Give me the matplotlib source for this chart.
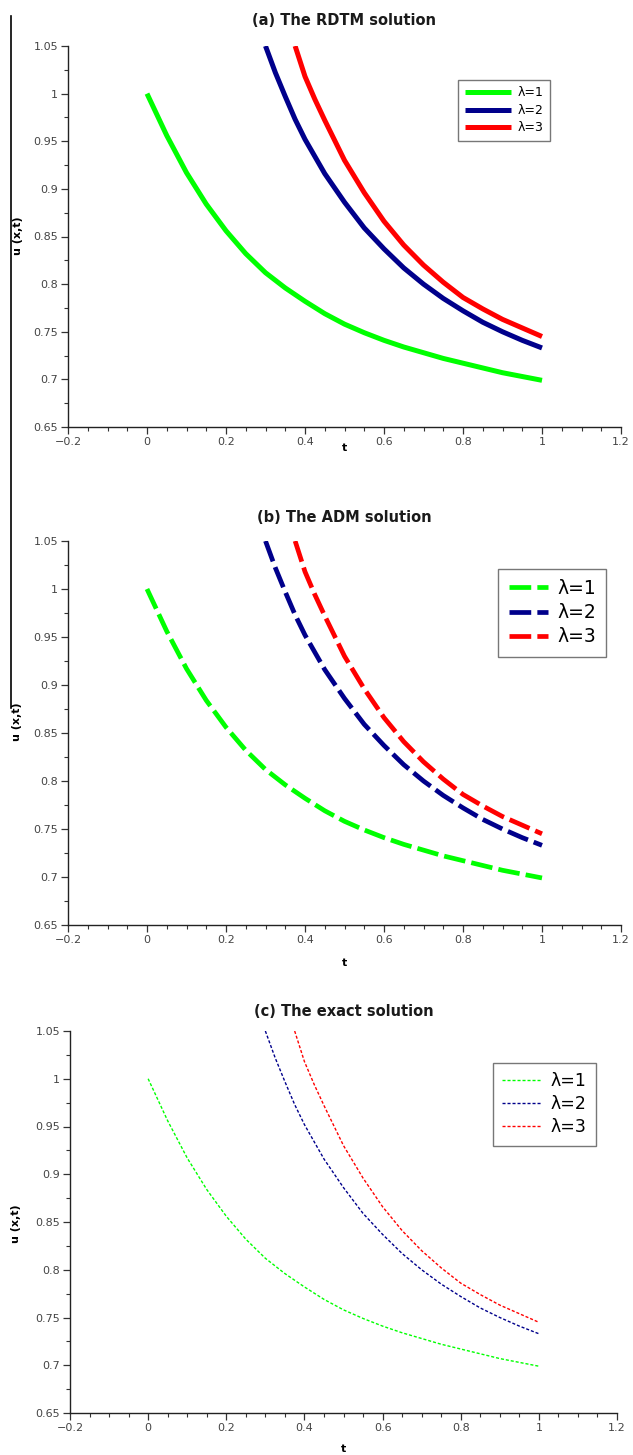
import numpy as np
import matplotlib
matplotlib.use("Agg")
import matplotlib.pyplot as plt
from matplotlib.ticker import MultipleLocator, FuncFormatter
from matplotlib.lines import Line2D

# ---- data ----
t_l1 = [0.0, 0.05, 0.1, 0.15, 0.2, 0.25, 0.3, 0.35, 0.4, 0.45, 0.5, 0.55, 0.6, 0.65, 0.7,
        0.75, 0.8, 0.85, 0.9, 0.95, 1.0]
u_l1 = [1.0, 0.956, 0.917, 0.884, 0.856, 0.832, 0.812, 0.796, 0.782, 0.769, 0.758, 0.749,
        0.741, 0.734, 0.728, 0.722, 0.717, 0.712, 0.707, 0.703, 0.699]

t_l2 = [0.3, 0.325, 0.35, 0.375, 0.4, 0.45, 0.5, 0.55, 0.6, 0.65, 0.7, 0.75, 0.8, 0.85,
        0.9, 0.95, 1.0]
u_l2 = [1.05, 1.022, 0.997, 0.973, 0.952, 0.916, 0.886, 0.859, 0.837, 0.817, 0.800, 0.785,
        0.772, 0.760, 0.750, 0.741, 0.733]

t_l3 = [0.375, 0.4, 0.425, 0.45, 0.475, 0.5, 0.55, 0.6, 0.65, 0.7, 0.75, 0.8, 0.85, 0.9,
        0.95, 1.0]
u_l3 = [1.05, 1.018, 0.994, 0.972, 0.951, 0.930, 0.896, 0.866, 0.841, 0.820, 0.802, 0.786,
        0.774, 0.763, 0.754, 0.745]

labels = ["λ=1", "λ=2", "λ=3"]
colors = ["#00ff00", "#00008b", "#ff0000"]
titles = ["(a) The RDTM solution", "(b) The ADM solution", "(c) The exact solution"]

xticks = [-0.2, 0, 0.2, 0.4, 0.6, 0.8, 1.0, 1.2]
yticks = [0.65, 0.7, 0.75, 0.8, 0.85, 0.9, 0.95, 1.0, 1.05]

series = [(t_l1, u_l1), (t_l2, u_l2), (t_l3, u_l3)]

W, H = 633, 1455
fig = plt.figure(figsize=(W / 100, H / 100), dpi=100)

def frac_rect(x0, x1, ytop, ybot):
    return [x0 / W, 1 - ybot / H, (x1 - x0) / W, (ybot - ytop) / H]

rects = [frac_rect(68, 621, 46, 427), frac_rect(68, 621, 541, 925), frac_rect(70, 617, 1031, 1413)]
title_dist = [26, 23, 20]          # px between axes top and title centre
xlabel_y = [-0.042, -0.087, -0.080]
ylabel_y = [0.501, 0.529, 0.495]
ylabel_x = [-0.081, -0.084, -0.089]
legend_anchor = [(0.705, 0.912), (0.778, 0.928), (0.773, 0.917)]
legend_fs = [9, 13.5, 12.5]
legend_hl = [3.7, 2.1, 2.3]
legend_ls = [0.36, 0.28, 0.28]

fmt = FuncFormatter(lambda v, p: ("%g" % round(v, 3)).replace("-", "\u2212"))

for i in range(3):
    ax = fig.add_axes(rects[i])
    for (tt, uu), c, lab in zip(series, colors, labels):
        if i == 0:
            ax.plot(tt, uu, color=c, lw=3.6, solid_capstyle="butt", solid_joinstyle="round", label=lab)
        elif i == 1:
            ax.plot(tt, uu, color=c, lw=3.4, dashes=(4.6, 1.3), dash_capstyle="butt", label=lab)
        else:
            ax.plot(tt, uu, color=c, lw=1.0, dashes=(2.2, 1.4), label=lab)
    ax.set_xlim(-0.2, 1.2)
    ax.set_ylim(0.65, 1.05)
    ax.set_xticks(xticks)
    ax.set_yticks(yticks)
    ax.xaxis.set_minor_locator(MultipleLocator(0.05))
    ax.yaxis.set_minor_locator(MultipleLocator(0.025))
    ax.xaxis.set_major_formatter(fmt)
    ax.yaxis.set_major_formatter(fmt)
    for s in ["top", "right"]:
        ax.spines[s].set_visible(False)
    for s in ["left", "bottom"]:
        ax.spines[s].set_linewidth(1.0)
        ax.spines[s].set_color("#222222")
    ax.tick_params(which="major", direction="out", length=5, width=0.9, color="#333333",
                   labelsize=8, labelcolor="#444444", pad=2)
    ax.tick_params(which="minor", direction="out", length=3, width=0.8, color="#333333")
    ax.set_xlabel("t", fontsize=8, fontweight="bold")
    ax.xaxis.set_label_coords(0.5, xlabel_y[i])
    ax.set_ylabel("u (x,t)", fontsize=8, fontweight="bold")
    ax.yaxis.set_label_coords(ylabel_x[i], ylabel_y[i])
    h_px = rects[i][3] * H
    ax.text(0.5, 1.0 + title_dist[i] / h_px, titles[i], transform=ax.transAxes,
            ha="center", va="center", fontsize=10.5, fontweight="bold", color="#1a1a1a")
    leg = ax.legend(loc="upper left", bbox_to_anchor=legend_anchor[i], fontsize=legend_fs[i],
                    frameon=True, fancybox=False, borderpad=0.55, labelspacing=legend_ls[i],
                    handlelength=legend_hl[i], handletextpad=0.5, borderaxespad=0)
    leg.get_frame().set_edgecolor("#555555")
    leg.get_frame().set_linewidth(1.0)

# vertical line at the left edge of the figure
fig.add_artist(Line2D([11 / W, 11 / W], [1 - 16 / H, 1 - 708 / H], transform=fig.transFigure,
                      color="black", lw=1.2))

fig.savefig("out.png", dpi=100)
